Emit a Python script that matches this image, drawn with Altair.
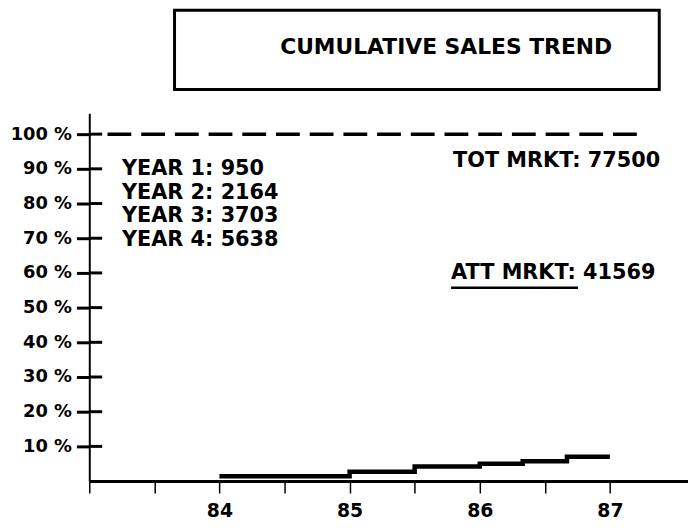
import altair as alt
import pandas as pd

# ---- data ----
years = [84, 85, 85.5, 86, 86.33, 86.67, 87]
share_pct = [1.4, 2.7, 4.2, 5.0, 5.7, 7.0, 7.0]

y_ticks = [10, 20, 30, 40, 50, 60, 70, 80, 90, 100]
x_ticks = [83, 83.5, 84, 84.5, 85, 85.5, 86, 86.5, 87]

target_years = [83.14, 87.22]
target_pct = [100, 100]

year_labels = ["YEAR 1", "YEAR 2", "YEAR 3", "YEAR 4"]
year_sales = [950, 2164, 3703, 5638]
tot_mrkt = 77500
att_mrkt = 41569
title_text = "CUMULATIVE SALES TREND"

FONT = "DejaVu Sans"

df_line = pd.DataFrame({"year": years, "pct": share_pct})
df_target = pd.DataFrame({"year": target_years, "pct": target_pct})
df_ticks = pd.DataFrame({"pct": y_ticks})
one = pd.DataFrame({"k": [0]})

xs = alt.Scale(domain=[83, 87.6], nice=False, zero=False)
ys = alt.Scale(domain=[0, 106], nice=False, zero=True)

x_axis = alt.Axis(
    values=x_ticks, title=None, grid=False,
    domainColor="black", domainWidth=3,
    tickColor="black", tickWidth=1.5, tickSize=12,
    labelExpr="datum.value >= 84 && datum.value % 1 == 0 ? format(datum.value, 'd') : ''",
    labelFont=FONT, labelFontWeight="bold", labelFontSize=19, labelColor="black",
    labelPadding=9, labelFlush=False, labelOverlap=False,
)
y_axis = alt.Axis(
    values=y_ticks, title=None, grid=False,
    domainColor="black", domainWidth=2,
    tickColor="black", tickWidth=3, tickSize=13,
    labelExpr="datum.value + ' %'",
    labelFont=FONT, labelFontWeight="bold", labelFontSize=18, labelColor="black",
    labelPadding=5, labelFlush=False, labelOverlap=False,
)

line = alt.Chart(df_line).mark_line(
    interpolate="step-after", strokeWidth=4.5, color="black"
).encode(
    x=alt.X("year:Q", scale=xs, axis=x_axis),
    y=alt.Y("pct:Q", scale=ys, axis=y_axis),
)

target = alt.Chart(df_target).mark_line(
    strokeDash=[24, 10], strokeWidth=3.5, color="black"
).encode(
    x=alt.X("year:Q", scale=xs, axis=x_axis),
    y=alt.Y("pct:Q", scale=ys, axis=y_axis),
)

inner_ticks = alt.Chart(df_ticks).mark_rule(strokeWidth=3, color="black").encode(
    y=alt.Y("pct:Q", scale=ys, axis=y_axis),
    x=alt.value(0),
    x2=alt.value(13),
)

year_lines = [f"{l}: {s}" for l, s in zip(year_labels, year_sales)]
year_text = alt.Chart(one).mark_text(
    align="left", baseline="middle", font=FONT, fontWeight="bold",
    fontSize=21, lineHeight=24, color="black",
).encode(x=alt.value(33), y=alt.value(56), text=alt.value(year_lines))

tot_text = alt.Chart(one).mark_text(
    align="left", baseline="middle", font=FONT, fontWeight="bold",
    fontSize=21, color="black",
).encode(x=alt.value(367), y=alt.value(48), text=alt.value(f"TOT MRKT: {tot_mrkt}"))

att_text = alt.Chart(one).mark_text(
    align="left", baseline="middle", font=FONT, fontWeight="bold",
    fontSize=21, color="black",
).encode(x=alt.value(365), y=alt.value(161), text=alt.value(f"ATT MRKT: {att_mrkt}"))

att_underline = alt.Chart(one).mark_rule(strokeWidth=2.5, color="black").encode(
    x=alt.value(365), x2=alt.value(493), y=alt.value(176)
)

title_box = alt.Chart(one).mark_rect(
    filled=False, stroke="black", strokeWidth=3
).encode(x=alt.value(86), x2=alt.value(575), y=alt.value(-104), y2=alt.value(-24))

title = alt.Chart(one).mark_text(
    align="center", baseline="middle", font=FONT, fontWeight="bold",
    fontSize=22, color="black",
).encode(x=alt.value(360), y=alt.value(-67), text=alt.value(title_text))

chart = alt.layer(
    title_box, title, target, inner_ticks, line, year_text, tot_text, att_text, att_underline
).properties(
    width=604, height=371,
    autosize=alt.AutoSizeParams(type="none"),
    padding={"left": 82, "top": 104, "right": 0, "bottom": 37},
).configure(background="white").configure_view(stroke=None)

chart.save("out.html", embed_options={"renderer": "svg", "actions": False})
